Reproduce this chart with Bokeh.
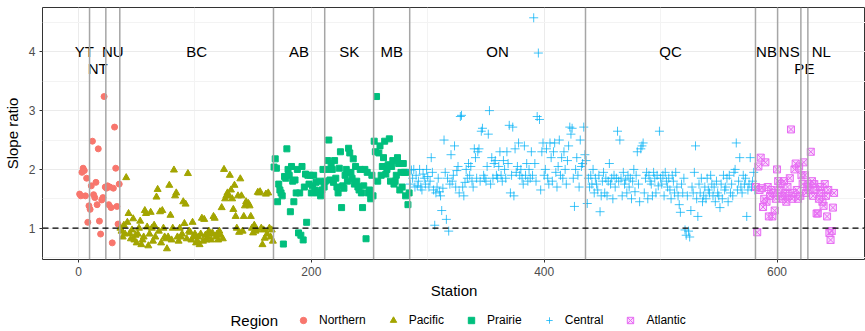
from bokeh.plotting import figure
from bokeh.layouts import column
from bokeh.models import Range1d, FixedTicker, Span, Legend, LegendItem
from bokeh.embed import file_html
from bokeh.resources import INLINE
from bokeh.core.properties import value

# ---------------- data ----------------
provinces = ["YT", "NT", "NU", "BC", "AB", "SK", "MB", "ON", "QC", "NB", "NS", "PE", "NL"]
province_counts = [9, 14, 12, 132, 44, 42, 31, 151, 146, 19, 20, 6, 23]
label_row = [0, 1, 0, 0, 0, 0, 0, 0, 0, 0, 0, 1, 0]   # 0 upper line, 1 lower line
label_levels = [4.0, 3.72]

regions = ["Northern", "Pacific", "Prairie", "Central", "Atlantic"]
region_colors = ["#F8766D", "#A3A500", "#00BF7D", "#00B0F6", "#E76BF3"]
region_markers = ["circle", "triangle", "square", "cross", "square_x"]

northern = [1.58, 1.55, 1.95, 2.02, 1.98, 1.55, 1.85, 1.1, 1.38, 1.32, 1.72, 2.48, 1.57, 1.52,
            1.78, 1.4, 2.35, 1.12, 0.9, 1.48, 1.52, 3.24, 1.7, 1.68, 1.72, 1.4, 1.7, 1.35, 0.75,
            1.68, 2.72, 2.02, 1.37, 1.07, 1.75]

pacific = [1.0, 0.95, 0.85, 1.05, 0.9, 1.86, 1.1, 1.25, 0.91, 0.82,
           0.97, 1.16, 0.8, 0.88, 0.75, 0.9, 1.0, 1.12, 0.72, 0.8,
           0.85, 1.3, 1.25, 1.02, 0.7, 0.9, 1.27, 1.0, 0.78, 1.05,
           0.85, 1.53, 1.66, 0.95, 1.28, 0.75, 1.3, 1.0, 0.85, 0.82,
           0.65, 0.85, 1.73, 1.22, 0.8, 1.0, 1.99, 1.55, 1.6, 0.85,
           0.78, 1.0, 0.85, 0.9, 1.45, 1.08, 1.41, 0.82, 1.93, 0.95,
           0.93, 0.8, 1.1, 0.85, 0.9, 0.75, 0.78, 0.85, 0.72, 0.9,
           1.17, 0.78, 1.15, 0.88, 0.8, 0.85, 0.95, 0.9, 0.8, 0.92,
           1.2, 1.17, 0.85, 0.9, 0.8, 0.95, 0.88, 1.35, 0.82, 2.0,
           1.5, 1.55, 1.6, 1.55, 1.9, 1.65, 1.5, 1.32, 1.73, 1.2,
           1.0, 1.55, 0.93, 1.84, 1.55, 0.95, 1.2, 1.38, 1.45, 1.4,
           1.42, 1.38, 1.2, 1.0, 0.92, 1.05, 0.95, 0.97, 1.61, 1.6,
           1.62, 1.0, 0.72, 0.97, 0.83, 1.58, 0.9, 1.6, 1.0, 0.85, 0.97, 0.78]

prairie = [2.04, 2.18, 2.02, 1.45, 1.75, 1.65, 1.6, 1.55, 0.73, 1.88,
           1.85, 2.35, 2.0, 1.9, 1.28, 2.05, 1.8, 1.45, 1.82, 1.6,
           2.0, 0.92, 1.6, 0.88, 2.05, 0.8, 1.7, 1.92, 1.1, 1.9,
           1.75, 1.9, 1.6, 1.72, 1.9, 1.65, 1.78, 1.6, 1.62, 1.8,
           1.55, 1.65, 2.0, 1.7,
           1.8, 2.0, 2.15, 2.5, 1.82, 2.1, 2.0, 1.78, 2.15, 1.85,
           1.7, 1.6, 2.02, 2.3, 1.35, 1.72, 1.68, 1.9, 2.0, 1.8,
           2.36, 2.28, 1.95, 1.85, 2.18, 1.75, 2.05, 1.8, 1.7, 1.65,
           2.0, 1.6, 1.35, 1.72, 2.0, 0.82, 1.95, 1.6, 1.65, 1.5,
           1.9, 1.55,
           2.48, 2.3, 3.24, 1.8, 2.28, 2.4, 1.9, 2.05, 2.2, 2.48,
           1.92, 2.0, 2.08, 2.52, 1.8, 2.05, 2.15, 1.75, 1.8, 1.9,
           2.2, 2.1, 1.65, 1.95, 1.7, 2.1, 1.95, 1.55, 1.95, 1.4, 1.6]

central = [1.75, 1.99, 1.85, 2.0, 1.7, 1.9, 1.72, 1.8, 2.0, 1.7,
           1.65, 1.92, 1.85, 1.75, 2.0, 1.88, 1.7, 1.8, 2.2, 1.95,
           1.65, 1.05, 1.6, 1.7, 1.85, 1.62, 1.55, 1.3, 1.68, 2.5,
           1.95, 1.15, 1.85, 0.95, 1.75, 2.25, 1.8, 1.9, 2.4, 1.7,
           1.98, 2.05, 1.6, 2.9, 2.92, 1.7, 1.55, 1.78, 2.0, 1.85,
           2.1, 1.9, 2.05, 1.8, 1.7, 2.35, 2.2, 1.85, 2.3, 2.35,
           1.8, 2.65, 2.7, 1.9, 1.85, 1.8, 2.05, 2.6, 3.0, 1.75,
           2.2, 1.85, 2.1, 2.15, 1.9, 1.85, 2.05, 2.3, 1.9, 1.8,
           2.15, 2.0, 1.85, 2.3, 2.1, 2.75, 1.6, 1.9, 2.72, 1.55,
           2.35, 1.95, 2.05, 2.45, 1.9, 2.0, 1.85, 1.75, 2.4, 1.9,
           2.1, 1.8, 2.0, 1.85, 2.3, 1.9, 4.58, 2.1, 1.8, 2.9,
           3.98, 2.85, 1.65, 2.3, 2.45, 1.9, 2.0, 2.35, 1.85, 1.75,
           2.45, 2.2, 1.8, 2.3, 2.45, 1.95, 1.7, 2.05, 2.5, 1.9,
           2.2, 1.85, 2.3, 2.0, 1.75, 2.15, 2.4, 2.72, 2.6, 2.7,
           1.85, 1.37, 2.0, 2.2, 1.9, 1.7, 2.5, 2.05, 2.1, 2.72, 2.25,
           2.15, 1.42, 1.85, 1.7, 1.9, 1.75, 2.0, 1.6, 1.85, 1.75,
           1.65, 1.9, 1.28, 1.55, 1.8, 1.95, 1.6, 1.85, 1.55, 1.8,
           2.1, 1.75, 1.85, 1.5, 1.9, 1.7, 1.85, 2.65, 1.8, 2.5,
           1.85, 1.55, 1.95, 1.75, 1.82, 1.6, 1.9, 1.7, 1.85, 1.5,
           1.8, 2.0, 1.62, 1.9, 2.3, 1.75, 1.45, 2.35, 2.4, 2.45,
           1.6, 1.85, 1.95, 1.5, 1.9, 1.8, 1.75, 1.55, 1.95, 1.85,
           1.6, 1.9, 1.72, 2.65, 1.85, 1.75, 1.9, 1.55, 1.95, 1.8,
           1.7, 1.85, 1.65, 1.5, 1.9, 1.8, 1.6, 1.95, 1.7, 1.55,
           1.4, 1.27, 1.75, 1.6, 1.85, 0.97, 0.88, 1.55, 0.95, 0.85,
           1.3, 1.7, 1.6, 1.95, 2.4, 1.5, 1.2, 1.75, 1.6, 1.85,
           1.45, 1.55, 1.7, 1.5, 1.85, 1.65, 1.6, 1.9, 1.75, 1.55,
           1.7, 1.45, 1.8, 1.6, 1.55, 1.35, 1.75, 1.5, 1.9, 1.65,
           1.7, 1.85, 1.45, 1.9, 1.6, 1.75, 1.55, 1.95, 2.0, 2.45,
           1.65, 1.8, 2.2, 1.7, 1.6, 1.9, 1.75, 1.85, 1.2, 1.65,
           1.75, 2.2, 1.7, 1.8, 1.95, 1.65]

atlantic = [1.7, 0.93, 2.05, 1.65, 2.2, 1.68, 1.36, 1.5, 2.12, 1.45, 1.7, 1.2, 1.55, 1.65,
            1.2, 1.6, 1.3, 1.5, 2.0,
            1.8, 1.65, 1.75, 1.55, 1.5, 1.8, 1.6, 1.45, 1.7, 1.55, 1.85, 2.68, 1.5, 1.6,
            2.0, 2.1, 1.65, 1.5, 2.05, 1.55,
            1.9, 1.75, 2.12, 1.9, 1.6, 1.7,
            1.75, 1.65, 2.3, 1.8, 1.55, 1.75, 1.65, 1.25, 1.25, 1.5, 1.7, 1.6, 1.45, 1.38,
            1.75, 1.55, 1.2, 1.65, 0.92, 0.8, 0.95, 1.35, 1.6]

region_values = [northern, pacific, prairie, central, atlantic]
x_ticks = [0, 200, 400, 600]
y_ticks = [1, 2, 3, 4]
reference_ratio = 1
legend_title = "Region"


def add_points(fig, xs, ys, col, mk, k=1.0):
    if mk == "cross":
        return fig.scatter(xs, ys, marker=mk, size=9 * k, line_color=col, line_width=1, line_alpha=0.75)
    if mk == "square_x":
        return fig.scatter(xs, ys, marker=mk, size=7 * k, line_color=col, fill_color=col,
                           fill_alpha=0.25, line_width=1)
    if mk == "triangle":
        return fig.scatter(xs, ys, marker=mk, size=7 * k, line_color=col, fill_color=col)
    return fig.scatter(xs, ys, marker=mk, size=6 * k, line_color=col, fill_color=col)


# ---------------- main figure ----------------
p = figure(width=865, height=303, output_backend="svg", toolbar_location=None,
           x_range=Range1d(-30.9, 676), y_range=Range1d(0.467, 4.755),
           min_border_left=42, min_border_right=0, min_border_top=7, min_border_bottom=44)
p.background_fill_color = "white"
p.border_fill_color = "white"
p.outline_line_color = "#333333"
p.outline_line_width = 1

for ax in (p.xaxis[0], p.yaxis[0]):
    ax.axis_line_color = None
    ax.major_tick_line_color = "#333333"
    ax.major_tick_out = 3
    ax.major_tick_in = 0
    ax.minor_tick_line_color = None
    ax.major_label_text_color = "#4D4D4D"
    ax.major_label_text_font = "Liberation Sans"
    ax.major_label_text_font_size = "12px"
    ax.axis_label_text_font = "Liberation Sans"
    ax.axis_label_text_font_size = "15px"
    ax.axis_label_text_font_style = "normal"
    ax.axis_label_text_color = "#000000"

p.xaxis[0].ticker = FixedTicker(ticks=x_ticks, minor_ticks=[t + 100 for t in x_ticks])
p.yaxis[0].ticker = FixedTicker(ticks=y_ticks, minor_ticks=[0.5] + [t + 0.5 for t in y_ticks])
p.xaxis.axis_label = "Station"
p.yaxis.axis_label = "Slope ratio"
p.xaxis.axis_label_standoff = 3
p.yaxis.axis_label_standoff = 5
p.xaxis.major_label_standoff = 3
p.yaxis.major_label_standoff = 3

p.xgrid.grid_line_color = "#EBEBEB"
p.ygrid.grid_line_color = "#EBEBEB"
p.xgrid.minor_grid_line_color = "#F3F3F3"
p.ygrid.minor_grid_line_color = "#F3F3F3"

start = 1
for vals, col, mk in zip(region_values, region_colors, region_markers):
    xs = list(range(start, start + len(vals)))
    start += len(vals)
    add_points(p, xs, vals, col, mk)

# province boundaries and labels
bounds = []
mids = []
cum = 0
for c in province_counts:
    mids.append(cum + 0.5 + c / 2)
    cum += c
    bounds.append(cum + 0.5)
for b in bounds[:-1]:
    p.add_layout(Span(location=b, dimension="height", line_color="#A6A6A6", line_width=1.5))

p.text(x=mids, y=[label_levels[r] for r in label_row], text=provinces,
       text_align="center", text_baseline="middle", text_font=value("Liberation Sans"),
       text_font_size="15px", text_color="#000000")

p.add_layout(Span(location=reference_ratio, dimension="width", line_color="#000000",
                  line_width=1.2, line_dash="6 4"))

# ---------------- legend strip ----------------
# its frame is aligned with the main frame (left edge at 42 px), so x is in page pixels
lg = figure(width=865, height=28, output_backend="svg", toolbar_location=None,
            x_range=Range1d(42, 865), y_range=Range1d(0, 28),
            x_axis_type=None, y_axis_type=None,
            min_border_left=42, min_border_right=0, min_border_top=0, min_border_bottom=0)
lg.grid.visible = False
lg.outline_line_color = None
lg.background_fill_color = "white"
lg.border_fill_color = "white"

# legend keys: one hidden point each (drawn outside the visible strip)
keys = [add_points(lg, [-100], [-100], col, mk, k=0.8)
        for col, mk in zip(region_colors, region_markers)]
legend = Legend(items=[LegendItem(label=n, renderers=[r]) for n, r in zip(regions, keys)],
                orientation="horizontal", location=(253, 3),
                glyph_width=16, glyph_height=16, label_standoff=8, spacing=19,
                padding=0, margin=0, border_line_alpha=0, background_fill_alpha=0,
                label_text_font="Liberation Sans", label_text_font_size="12px",
                label_text_color="#000000")
lg.add_layout(legend, "center")
lg.text(x=[230], y=[11], text=[legend_title], text_align="left", text_baseline="middle",
        text_font=value("Liberation Sans"), text_font_size="15px", text_color="#000000")

open("out.html", "w").write(file_html(column(p, lg, spacing=0), INLINE))
